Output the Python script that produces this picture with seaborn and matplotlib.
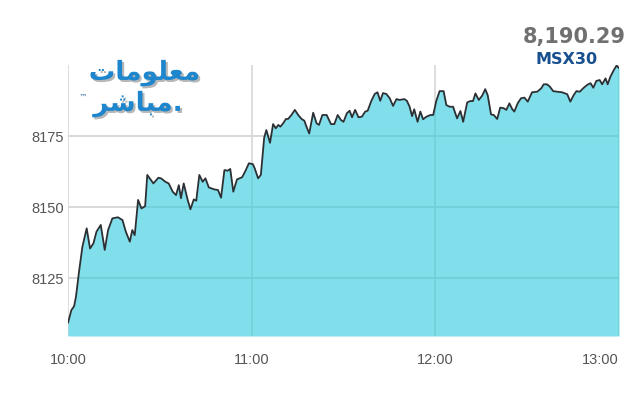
import pandas as pd
import matplotlib
matplotlib.use("Agg")
import matplotlib.pyplot as plt
import matplotlib.patheffects as pe
import seaborn as sns

# minutes after 10:00 and index level
minutes = [0, 1.1, 2.0, 2.6, 3.6, 4.7, 6.1, 7.2, 8.3, 9.3, 10.7, 12.0, 13.1, 14.5, 16.3,
           17.8, 18.9, 20.2, 21.0, 21.8, 22.9, 24.0, 25.2, 25.9, 27.9, 29.5, 30.4, 31.8,
           32.9, 34.2, 35.3, 36.2, 36.9, 37.8, 39.1, 40.0, 41.1, 41.9, 42.9, 44.0, 44.9,
           46.0, 47.8, 49.0, 50.0, 51.1, 52.2, 53.0, 54.0, 55.2, 56.9, 58.0, 59.1, 60.4,
           61.0, 62.1, 63.0, 64.1, 64.8, 66.0, 67.0, 67.9, 68.7, 69.4, 70.3, 71.2, 71.9,
           73.0, 74.1, 75.2, 76.3, 77.2, 77.9, 78.8, 80.1, 81.2, 82.0, 83.1, 84.5, 85.9,
           87.0, 88.1, 89.2, 90.0, 91.1, 92.0, 92.8, 93.8, 94.9, 96.0, 97.1, 97.9, 99.1,
           100.2, 101.1, 102.0, 102.9, 104.0, 105.1, 106.2, 107.3, 108.3, 109.9, 110.7,
           111.6, 112.4, 113.1, 114.2, 115.1, 116.0, 117.1, 118.4, 119.3, 120.3, 121.4,
           122.7, 123.6, 124.7, 125.8, 127.1, 128.2, 129.1, 130.4, 131.4, 132.3, 133.1,
           134.2, 135.3, 136.3, 137.1, 138.2, 139.1, 140.2, 141.2, 142.3, 143.2, 144.2,
           145.1, 145.8, 146.9, 148.0, 149.1, 150.2, 151.6, 153.3, 154.6, 155.4, 156.5,
           157.4, 158.5, 159.8, 161.4, 163.1, 164.1, 165.2, 166.1, 167.2, 168.3, 169.6,
           170.7, 171.6, 172.6, 173.7, 174.5, 175.6, 176.3, 177.2, 178.3, 179.2, 180.0]
index_value = [8109.2, 8113.7, 8115.1, 8118.4, 8127.2, 8136.0, 8142.5, 8135.4, 8137.2, 8141.3,
               8143.7, 8134.9, 8141.9, 8146.0, 8146.4, 8145.4, 8141.3, 8137.8, 8141.9, 8140.1,
               8152.5, 8149.5, 8150.3, 8161.3, 8158.3, 8160.3, 8160.1, 8158.9, 8158.3, 8155.4,
               8154.2, 8157.7, 8153.1, 8158.3, 8152.5, 8149.2, 8152.7, 8152.2, 8161.3, 8158.9,
               8160.1, 8156.9, 8156.2, 8156.0, 8153.3, 8163.0, 8162.8, 8163.4, 8155.4, 8159.7,
               8160.5, 8162.8, 8165.4, 8165.1, 8163.6, 8160.1, 8161.3, 8174.5, 8177.1, 8172.6,
               8179.2, 8177.7, 8178.9, 8178.3, 8179.5, 8181.0, 8181.0, 8182.4, 8184.2, 8182.4,
               8181.0, 8180.4, 8178.3, 8175.9, 8183.2, 8179.5, 8178.9, 8182.4, 8182.4, 8179.2,
               8179.2, 8182.4, 8180.6, 8180.0, 8183.0, 8183.9, 8181.6, 8184.2, 8181.6, 8181.8,
               8183.6, 8183.9, 8187.4, 8189.8, 8190.4, 8187.4, 8190.1, 8189.8, 8188.3, 8185.6,
               8188.0, 8187.7, 8188.0, 8187.4, 8185.3, 8182.0, 8184.4, 8180.0, 8183.6, 8180.9,
               8181.8, 8182.4, 8182.4, 8187.3, 8190.8, 8190.8, 8185.9, 8185.3, 8185.3, 8181.2,
               8183.8, 8180.0, 8186.8, 8187.3, 8187.3, 8190.0, 8187.7, 8189.2, 8191.5, 8189.4,
               8182.6, 8182.4, 8181.0, 8185.0, 8184.8, 8184.2, 8186.5, 8184.5, 8183.6, 8186.5,
               8188.3, 8188.5, 8187.1, 8190.4, 8190.6, 8191.8, 8193.2, 8193.2, 8192.4, 8190.8,
               8190.6, 8190.4, 8189.7, 8187.1, 8189.4, 8190.8, 8190.6, 8191.8, 8193.0, 8193.6,
               8192.0, 8194.4, 8194.7, 8193.2, 8195.3, 8193.2, 8195.9, 8198.2, 8199.8, 8198.9]

tick_minutes = [0, 60, 120, 180]
tick_labels = ["10:00", "11:00", "12:00", "13:00"]
y_ticks = [8125, 8150, 8175]
last_value = "8,190.29"
index_name = "MSX30"

df = pd.DataFrame({"Minute": minutes, "Value": index_value})

sns.set_style("white")

fig = plt.figure(figsize=(6.4, 4.0), dpi=100)
ax = fig.add_axes([68 / 640, 1 - 336 / 400, 551 / 640, 271 / 400])

ymin, ymax = 8104.6, 8200
ax.set_xlim(0, 180)
ax.set_ylim(ymin, ymax)

# grid behind the semi transparent fill
for t in tick_minutes:
    ax.axvline(t, color="#dadada", lw=1.3, zorder=0)
for v in y_ticks:
    ax.axhline(v, color="#d6d6d6", lw=1.3, zorder=0)

ax.fill_between(df["Minute"], df["Value"], ymin, color="#2ccbdc", alpha=0.6, lw=0, zorder=1)
sns.lineplot(data=df, x="Minute", y="Value", color="#2b3034", lw=1.3, ax=ax, zorder=2)

ax.set_xlabel("")
ax.set_ylabel("")
ax.set_xticks(tick_minutes)
ax.set_xticklabels(tick_labels)
ax.set_yticks(y_ticks)
ax.set_yticklabels([str(v) for v in y_ticks])
ax.tick_params(length=0, labelsize=10.5, labelcolor="#555555")
ax.tick_params(axis="x", pad=12)
ax.tick_params(axis="y", pad=3)
for lab in ax.get_xticklabels() + ax.get_yticklabels():
    lab.set_family(["Liberation Sans", "DejaVu Sans"])
ax.get_xticklabels()[-1].set_horizontalalignment("right")
for s in ax.spines.values():
    s.set_visible(False)

fig.text(626 / 640, 1 - 37 / 400, last_value, ha="right", va="center",
         fontsize=15, fontweight="bold", color="#707070", family="DejaVu Sans")
fig.text(567 / 640, 1 - 60 / 400, index_name, ha="center", va="center",
         fontsize=11.5, fontweight="bold", color="#174f8f", family="DejaVu Sans")

# logo: Arabic in presentation forms, visual order
shadow = [pe.withSimplePatchShadow(offset=(1.5, -1.5), shadow_rgbFace="#888888", alpha=0.6)]
fig.text(200 / 640, 1 - 73 / 400, "\uFE95\uFE8E\uFEE3\uFEEE\uFEE0\uFECC\uFEE3",
         ha="right", va="center", fontsize=19, fontweight="bold", color="#1e86cc",
         family="DejaVu Sans", path_effects=shadow)
fig.text(183 / 640, 1 - 104 / 400, "\uFEAE\uFEB7\uFE8E\uFE92\uFEE3.",
         ha="right", va="center", fontsize=19, fontweight="bold", color="#1e86cc",
         family="DejaVu Sans", path_effects=shadow)
fig.text(83 / 640, 1 - 97 / 400, "\u2122", ha="center", va="center",
         fontsize=6, color="#1e5f99", family="DejaVu Sans")

fig.savefig("out.png", dpi=100)
